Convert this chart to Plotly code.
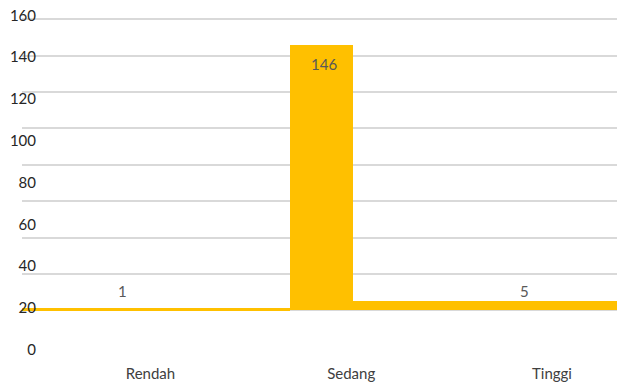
import plotly.graph_objects as go

# Data
categories = ["Rendah", "Sedang", "Tinggi"]
values = [1, 146, 5]
tick_values = [0, 20, 40, 60, 80, 100, 120, 140, 160]
tick_labels = ["0", "20", "40", "60", "80", "100", "120", "140", "160"]

BAR_COLOR = "#FFC000"
GRID_COLOR = "#D9D9D9"
FONT = "Lato"

W, H = 617, 385
fig = go.Figure()

# bar geometry (styling): offsets / widths in category units
bar_offsets = [-0.640, -0.305, -0.9925]
bar_widths = [1.335, 0.3125, 1.3165]

fig.add_trace(go.Bar(
    x=categories, y=values,
    offset=bar_offsets, width=bar_widths,
    marker=dict(color=BAR_COLOR, line=dict(width=0)),
    hoverinfo="skip", showlegend=False,
))

# invisible trace to activate the label axis
fig.add_trace(go.Scatter(x=[categories[0]], y=[0], yaxis="y2", mode="markers",
                         marker=dict(opacity=0), hoverinfo="skip", showlegend=False))

# data labels
label_yanchor = ["bottom", "top", "bottom"]
label_yshift = [6, -8, -0.5]
for c, v, ya, ys in zip(categories, values, label_yanchor, label_yshift):
    fig.add_annotation(x=c, y=v, text=str(v), showarrow=False, xshift=-27.5,
                       yanchor=ya, yshift=ys,
                       font=dict(family=FONT, size=15, color="#595959"))

fig.update_layout(
    width=W, height=H,
    margin=dict(l=0, r=0, t=0, b=25),
    paper_bgcolor="white", plot_bgcolor="white",
    font=dict(family=FONT, size=15, color="#404040"),
    bargap=0,
    xaxis=dict(
        domain=[22 / W, 1], range=[-0.640, 2.324],
        showgrid=False, zeroline=False, showline=False, ticks="",
        ticklabelstandoff=3,
        tickfont=dict(family=FONT, size=15, color="#404040"),
    ),
    yaxis=dict(
        range=[-27.3, 170.5], tickvals=tick_values, showticklabels=False,
        showgrid=True, gridcolor=GRID_COLOR, gridwidth=1.5,
        zeroline=False, showline=False, ticks="",
    ),
    yaxis2=dict(
        overlaying="y", anchor="free", position=36 / W, side="left",
        range=[-4.93, 167.3], tickvals=tick_values, ticktext=tick_labels,
        showgrid=False, zeroline=False, showline=False, ticks="",
        tickfont=dict(family=FONT, size=15, color="#262626"),
    ),
)

fig.write_html("out.html")
